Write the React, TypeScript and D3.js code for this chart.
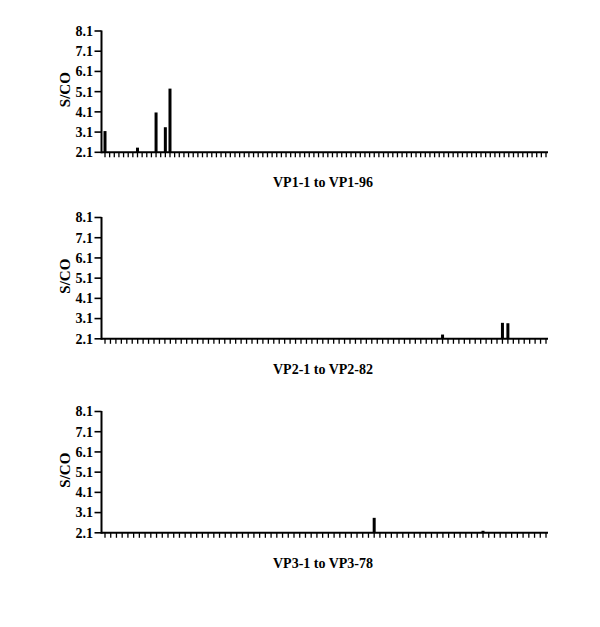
import React from "react";
import * as d3 from "d3";

// Category counts and titles
const panelTitles = ["VP1-1 to VP1-96", "VP2-1 to VP2-82", "VP3-1 to VP3-78"];
const panelCounts = [96, 82, 78];

// Visible values (S/CO above baseline), as [category number, value]
const vp1Hits: [number, number][] = [[1, 3.15], [8, 2.33], [12, 4.07], [14, 3.34], [15, 5.25]];
const vp2Hits: [number, number][] = [[63, 2.31], [74, 2.89], [75, 2.87]];
const vp3Hits: [number, number][] = [[48, 2.84], [67, 2.2]];

const yTicks = [2.1, 3.1, 4.1, 5.1, 6.1, 7.1, 8.1];
const yLabel = "S/CO";

const panelHits = [vp1Hits, vp2Hits, vp3Hits];
const panelTops = [31, 217.5, 411.5];

const FONT = "'Liberation Serif', 'Times New Roman', serif";

function Panel({ top, count, hits, title }: { top: number; count: number; hits: [number, number][]; title: string }) {
  const axisX = 101.5;
  const axisEnd = 548;
  const plotH = 121.3;
  const y = d3.scaleLinear().domain([2.1, 8.1]).range([top + plotH, top]);
  const cats = d3.range(1, count + 1);
  const x = d3.scalePoint<number>().domain(cats).range([105, 546]);
  const base = y(2.1);
  const barW = 3;
  return (
    <g>
      {hits.map(([c, v]) => (
        <rect key={c} x={(x(c) as number) - barW / 2} y={y(v)} width={barW} height={base - y(v)} fill="#000" />
      ))}
      {cats.map((c) => (
        <line key={c} x1={x(c)} x2={x(c)} y1={base} y2={base + 5} stroke="#000" strokeWidth={1.3} />
      ))}
      <line x1={axisX} x2={axisEnd} y1={base} y2={base} stroke="#000" strokeWidth={2} />
      <line x1={axisX} x2={axisX} y1={top - 0.5} y2={base + 1} stroke="#000" strokeWidth={2} />
      {yTicks.map((t) => (
        <g key={t}>
          <line x1={axisX - 7} x2={axisX} y1={y(t)} y2={y(t)} stroke="#000" strokeWidth={1.6} />
          <text x={axisX - 8.5} y={y(t)} dy="0.35em" textAnchor="end" fontFamily={FONT} fontWeight="bold" fontSize={14}>
            {t.toFixed(1)}
          </text>
        </g>
      ))}
      <text
        transform={`translate(70,${top + plotH / 2 - 2}) rotate(-90)`}
        textAnchor="middle"
        fontFamily={FONT}
        fontWeight="bold"
        fontSize={15}
      >
        {yLabel}
      </text>
      <text x={323} y={base + 35} textAnchor="middle" fontFamily={FONT} fontWeight="bold" fontSize={14}>
        {title}
      </text>
    </g>
  );
}

export default function App() {
  return (
    <svg width={600} height={627} style={{ position: "absolute", left: 0, top: 0, background: "#fff" }}>
      <rect width={600} height={627} fill="#fff" />
      {panelTitles.map((t, i) => (
        <Panel key={t} top={panelTops[i]} count={panelCounts[i]} hits={panelHits[i]} title={t} />
      ))}
    </svg>
  );
}
